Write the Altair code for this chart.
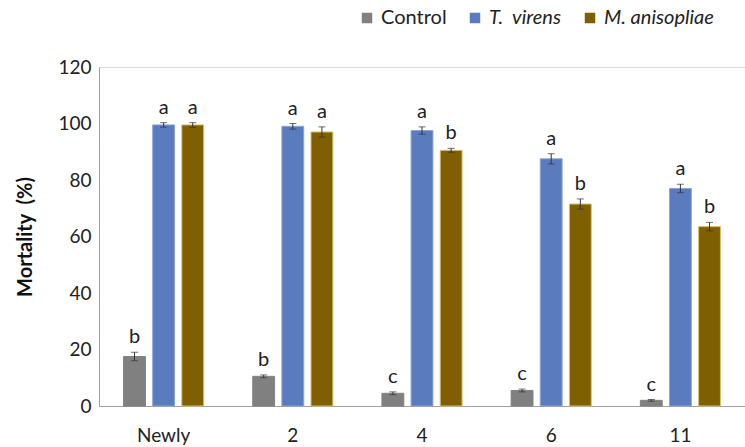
import altair as alt
import pandas as pd

# Days after treatment (x categories) and treatment series
groups = ["Newly", "2", "4", "6", "11"]
series = ["Control", "T.\u00a0 virens", "M. anisopliae"]

control = [17.5, 10.5, 4.5, 5.5, 2.0]
virens = [99.5, 99.0, 97.5, 87.5, 77.0]
aniso = [99.5, 97.0, 90.5, 71.5, 63.5]

control_err = [1.5, 0.5, 0.5, 0.5, 0.3]
virens_err = [0.8, 1.0, 1.3, 1.8, 1.5]
aniso_err = [0.8, 1.8, 0.7, 1.8, 1.5]

control_sig = ["b", "b", "c", "c", "c"]
virens_sig = ["a", "a", "a", "a", "a"]
aniso_sig = ["a", "a", "b", "b", "b"]

colors = ["#808080", "#5a7bbd", "#7f6000"]
FONT = "Lato"

rows = []
for name, vals, errs, sigs in [
    (series[0], control, control_err, control_sig),
    (series[1], virens, virens_err, virens_sig),
    (series[2], aniso, aniso_err, aniso_sig),
]:
    for g, v, e, s in zip(groups, vals, errs, sigs):
        rows.append({"group": g, "series": name, "value": v,
                     "lo": v - e, "hi": v + e, "sig": s})
df = pd.DataFrame(rows)

x_enc = alt.X(
    "group:N", sort=groups, title=None,
    scale=alt.Scale(paddingInner=0.38, paddingOuter=0.19),
    axis=alt.Axis(labelAngle=0, ticks=False, labelPadding=20, labelFontSize=19,
                  labelFont=FONT, labelColor="#222222", domainColor="#a0a0a0",
                  grid=False),
)
xo_enc = alt.XOffset("series:N", sort=series, scale=alt.Scale(paddingInner=0.25))
y_scale = alt.Scale(domain=[0, 120])

base = alt.Chart(df)

bars = base.mark_bar(strokeWidth=1).encode(
    x=x_enc,
    xOffset=xo_enc,
    y=alt.Y("value:Q", scale=y_scale, title="Mortality\u00a0 (%)",
            axis=alt.Axis(values=[0, 20, 40, 60, 80, 100, 120], ticks=False,
                          grid=False, labelFontSize=19, labelFont=FONT,
                          labelColor="#222222", labelPadding=8,
                          domainColor="#a0a0a0", titleFont=FONT,
                          titleFontSize=20, titleFontWeight="bold",
                          titleColor="#111111", titlePadding=22)),
    color=alt.Color(
        "series:N", sort=series,
        scale=alt.Scale(domain=series, range=colors),
        legend=alt.Legend(
            title=None, orient="none", direction="horizontal",
            legendX=258, legendY=-59, symbolType="square", symbolSize=110,
            symbolStrokeWidth=0, labelFont=FONT, labelFontSize=20,
            labelColor="#222222", columnPadding=18, symbolOffset=0,
            labelFontStyle=alt.ExprRef(
                expr="datum.label == 'Control' ? 'normal' : 'italic'"),
        ),
    ),
    stroke=alt.Stroke("series:N", sort=series,
                      scale=alt.Scale(domain=series,
                                      range=["#808080", "#8aa5d6", "#d8c070"]),
                      legend=None),
)

rules = base.mark_rule(color="#333333", strokeWidth=1).encode(
    x=x_enc, xOffset=xo_enc, y="lo:Q", y2="hi:Q"
)
caps_hi = base.mark_tick(color="#333333", size=7, thickness=1).encode(
    x=x_enc, xOffset=xo_enc, y="hi:Q"
)
caps_lo = base.mark_tick(color="#333333", size=7, thickness=1).encode(
    x=x_enc, xOffset=xo_enc, y="lo:Q"
)
letters = base.mark_text(baseline="bottom", dy=-5, font=FONT, fontSize=20,
                         color="#222222").encode(
    x=x_enc, xOffset=xo_enc, y="hi:Q", text="sig:N"
)

chart = (
    alt.layer(bars, rules, caps_hi, caps_lo, letters)
    .properties(
        width=646, height=339,
        autosize=alt.AutoSizeParams(type="none"),
        padding={"left": 99, "top": 67, "right": 0, "bottom": 41},
    )
    .configure_view(stroke=None)
    .configure(background="white")
)

chart.save("out.html", embed_options={"renderer": "svg", "actions": False})
